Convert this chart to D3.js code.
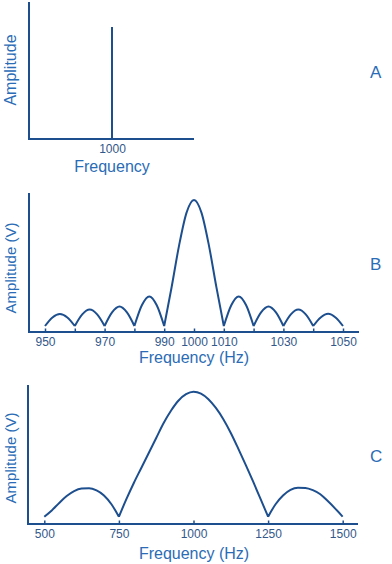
<!DOCTYPE html>
<html><head><meta charset="utf-8">
<script src="https://cdn.jsdelivr.net/npm/d3@7"></script>
<style>
html,body{margin:0;padding:0;background:#fff;}
svg{display:block;font-family:"Liberation Sans",Arial,sans-serif;}
</style></head>
<body>
<script>
// ---- Data ----
const panelLabels = ["A", "B", "C"];
const aFreq = [1000];
const aAmp = [1];
const aTicks = [1000];

const bFreq = [950,952.5,955,957.5,960,962.5,965,967.5,970,972.5,975,977.5,980,982.5,985,987.5,990,
  992.5,995,997.5,1000,1002.5,1005,1007.5,1010,
  1012.5,1015,1017.5,1020,1022.5,1025,1027.5,1030,1032.5,1035,1037.5,1040,1042.5,1045,1047.5,1050];
const bAmp = [0,0.068,0.095,0.068,0,0.092,0.13,0.092,0,0.108,0.155,0.108,0,0.165,0.235,0.165,0,
  0.31,0.64,0.9,1.0,0.9,0.64,0.31,0,
  0.165,0.235,0.165,0,0.108,0.155,0.108,0,0.092,0.13,0.092,0,0.068,0.097,0.068,0];
const bTicks = [950,960,970,980,990,1000,1010,1020,1030,1040,1050];
const bTickLabels = [950,970,990,1000,1010,1030,1050];

const cFreq = [500,525,550,575,600,625,650,675,700,725,750,
  775,800,825,850,875,900,925,950,975,1000,1025,1050,1075,1100,1125,1150,1175,1200,1225,1250,
  1275,1300,1325,1350,1375,1400,1425,1450,1475,1500];
const cAmp = [0,0.05,0.11,0.165,0.205,0.225,0.228,0.21,0.17,0.1,0,
  0.14,0.27,0.39,0.51,0.63,0.75,0.85,0.93,0.98,1.0,0.985,0.94,0.87,0.78,0.67,0.545,0.415,0.28,0.14,0,
  0.1,0.17,0.215,0.232,0.23,0.212,0.18,0.125,0.065,0];
const cTicks = [500,750,1000,1250,1500];

// ---- Style ----
const lineColor = "#1d4f8f";
const titleColor = "#2b6cb6";
const tickColor = "#33588a";

const W = 392, H = 564;
const svg = d3.select("body").append("svg").attr("width", W).attr("height", H);

function lobes(xs, ys) {
  // split series into segments between zero points (cusps)
  const pts = xs.map((x, i) => [x, ys[i]]);
  const segs = [];
  let cur = [pts[0]];
  for (let i = 1; i < pts.length; i++) {
    cur.push(pts[i]);
    if (pts[i][1] === 0 && i < pts.length - 1) { segs.push(cur); cur = [pts[i]]; }
  }
  if (cur.length > 1) segs.push(cur);
  return segs;
}

function panel(cfg) {
  const g = svg.append("g");
  const x = d3.scaleLinear().domain(cfg.xDomain).range(cfg.xRange);
  const y = d3.scaleLinear().domain([0, 1]).range(cfg.yRange);
  // axes lines
  g.append("line").attr("x1", cfg.axisX).attr("x2", cfg.axisX).attr("y1", cfg.axisTop).attr("y2", cfg.axisY + 1)
    .attr("stroke", lineColor).attr("stroke-width", 2);
  g.append("line").attr("x1", cfg.axisX - 1).attr("x2", cfg.axisRight).attr("y1", cfg.axisY).attr("y2", cfg.axisY)
    .attr("stroke", lineColor).attr("stroke-width", 2);
  // ticks via d3 axis
  const ax = d3.axisBottom(x).tickValues(cfg.ticks).tickSizeInner(cfg.tickLen).tickSizeOuter(0)
    .tickFormat(d => cfg.tickLabels.includes(d) ? String(d) : "");
  const axg = g.append("g").attr("transform", `translate(0,${cfg.axisY})`).call(ax);
  axg.select(".domain").remove();
  axg.selectAll(".tick line").attr("stroke", lineColor).attr("stroke-width", 1.5);
  axg.selectAll(".tick text").attr("y", cfg.tickTextY).attr("dy", 0)
    .attr("fill", tickColor).attr("font-size", 12).attr("font-family", "Liberation Sans, Arial, sans-serif");
  // data
  cfg.draw(g, x, y);
  // titles
  g.append("text").attr("x", cfg.xTitleX).attr("y", cfg.xTitleY).attr("text-anchor", "middle")
    .attr("fill", titleColor).attr("font-size", 16).text(cfg.xTitle);
  g.append("text").attr("transform", `translate(${cfg.yTitleX},${cfg.yTitleY}) rotate(-90)`)
    .attr("text-anchor", "middle").attr("fill", titleColor).attr("font-size", cfg.yTitleSize).text(cfg.yTitle);
  g.append("text").attr("x", 370).attr("y", cfg.letterY).attr("fill", titleColor).attr("font-size", 17).text(cfg.letter);
}

// Panel A
panel({
  xDomain: [0, 2000], xRange: [29, 195], yRange: [139, 27],
  axisX: 29, axisTop: 2, axisY: 139, axisRight: 194,
  ticks: aTicks, tickLabels: aTicks, tickLen: 0, tickTextY: 14,
  xTitle: "Frequency", xTitleX: 112, xTitleY: 172,
  yTitle: "Amplitude", yTitleX: 15.5, yTitleY: 70, yTitleSize: 16,
  letter: panelLabels[0], letterY: 78,
  draw: (g, x, y) => {
    g.selectAll("line.spike").data(aFreq).enter().append("line").attr("class", "spike")
      .attr("x1", d => x(d)).attr("x2", d => x(d))
      .attr("y1", (d, i) => y(aAmp[i])).attr("y2", y(0))
      .attr("stroke", lineColor).attr("stroke-width", 2);
  }
});

function curveDraw(xs, ys) {
  return (g, x, y) => {
    const line = d3.line().x(d => x(d[0])).y(d => y(d[1])).curve(d3.curveMonotoneX);
    const segs = lobes(xs, ys);
    const p = segs.map(s => line(s)).join("");
    g.append("path").attr("d", p).attr("fill", "none").attr("stroke", lineColor)
      .attr("stroke-width", 2).attr("stroke-linejoin", "round");
  };
}

// Panel B
panel({
  xDomain: [950, 1050], xRange: [45, 343], yRange: [326, 200],
  axisX: 29, axisTop: 193, axisY: 332, axisRight: 359,
  ticks: bTicks, tickLabels: bTickLabels, tickLen: -3.5, tickTextY: 13.5,
  xTitle: "Frequency (Hz)", xTitleX: 194, xTitleY: 363,
  yTitle: "Amplitude (V)", yTitleX: 15.5, yTitleY: 268, yTitleSize: 15,
  letter: panelLabels[1], letterY: 270,
  draw: curveDraw(bFreq, bAmp)
});

// Panel C
panel({
  xDomain: [500, 1500], xRange: [44.3, 342.7], yRange: [516.7, 391.7],
  axisX: 28, axisTop: 385, axisY: 524, axisRight: 358,
  ticks: cTicks, tickLabels: cTicks, tickLen: -3.5, tickTextY: 13.5,
  xTitle: "Frequency (Hz)", xTitleX: 194, xTitleY: 558.5,
  yTitle: "Amplitude (V)", yTitleX: 15.5, yTitleY: 458, yTitleSize: 15,
  letter: panelLabels[2], letterY: 462,
  draw: curveDraw(cFreq, cAmp)
});
</script>
</body></html>
